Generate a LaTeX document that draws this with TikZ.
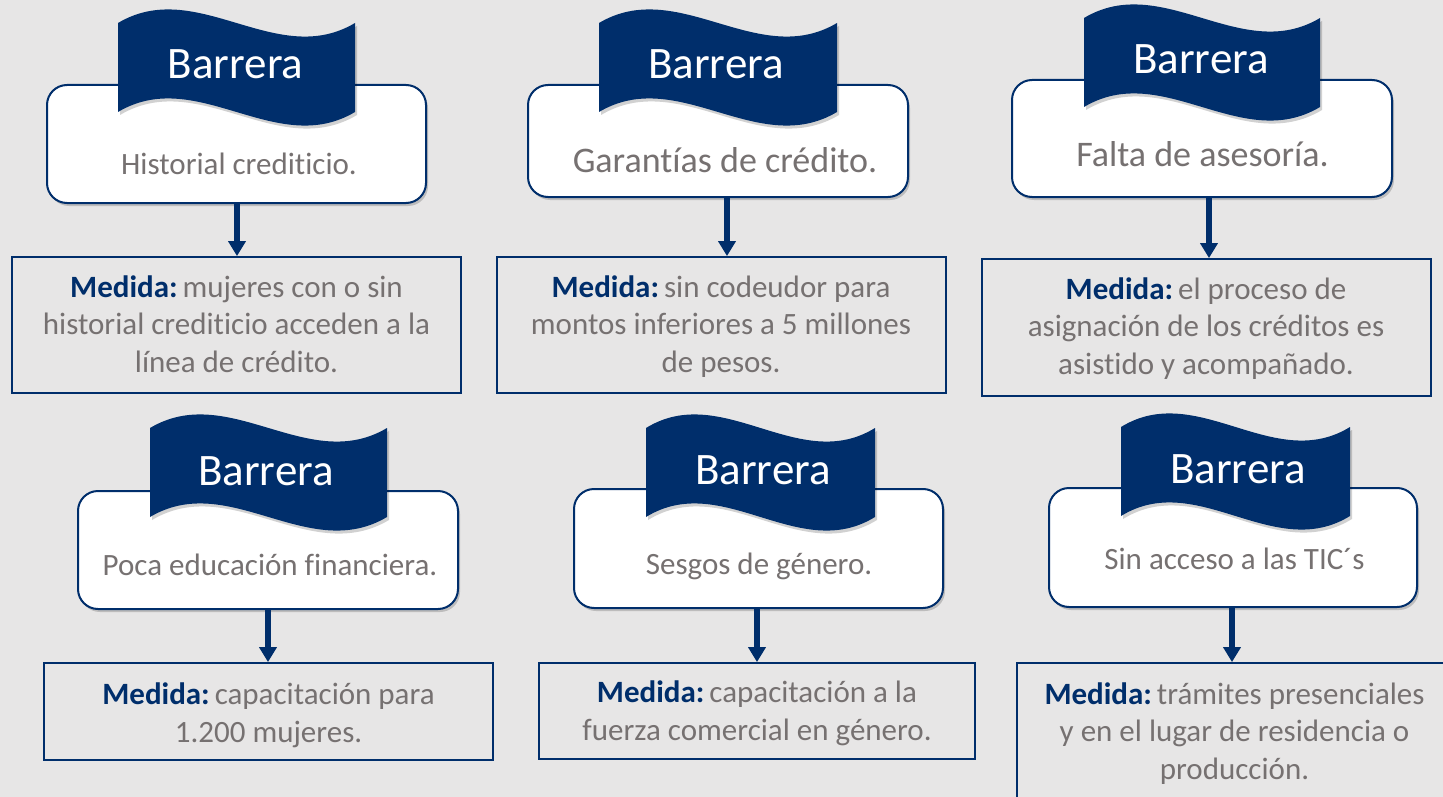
\documentclass[tikz,border=0pt]{standalone}
\usepackage{fontspec}
\setmainfont{Carlito}[Ligatures={NoCommon}]
\usetikzlibrary{arrows.meta,shadows}
\definecolor{bg}{HTML}{E7E6E6}
\definecolor{navy}{HTML}{002E6B}
\definecolor{txtgray}{HTML}{767171}
\newcommand{\flagshape}[3]{%
  \fill[navy, flagshadow] (#1,#2)
    .. controls ({#1+#3/3},{#2-47}) and ({#1+2*#3/3},{#2+47}) .. ({#1+#3},#2)
    -- ({#1+#3},{#2+89})
    .. controls ({#1+2*#3/3},{#2+89+47}) and ({#1+#3/3},{#2+89-47}) .. (#1,{#2+89})
    -- cycle;}
\tikzset{
  flagshadow/.style={drop shadow={shadow xshift=2pt,shadow yshift=-3pt,opacity=0.18,fill=black}},
  barbox/.style={draw=navy, line width=2pt, fill=white, rounded corners=20pt,
    inner sep=0pt, drop shadow={shadow xshift=2pt,shadow yshift=-3pt,opacity=0.18,fill=black}},
  medbox/.style={draw=navy, line width=1.8pt, inner sep=0pt},
  flagtxt/.style={anchor=base, text=white, font=\fontsize{45}{54}\selectfont, inner sep=0pt},
  bartxt/.style={anchor=base, text=txtgray, font=\fontsize{31}{37.5}\selectfont, inner sep=0pt},
  bigbartxt/.style={anchor=base, text=txtgray, font=\fontsize{36}{43}\selectfont, inner sep=0pt},
  medtxt/.style={anchor=base, text=txtgray, align=center, font=\fontsize{31}{37.5}\selectfont, inner sep=0pt},
  conn/.style={draw=navy, line width=6pt, -{Triangle[width=17pt,length=15pt]}},
}
\newcommand{\med}{\textbf{\textcolor{navy}{Medida:}}\hspace{5pt}}
\begin{document}
\begin{tikzpicture}[x=1pt,y=-1pt]
\useasboundingbox (0,0) rectangle (1443,797);
\clip (0,0) rectangle (1443,797);
\fill[bg] (0,0) rectangle (1443,797);

% coordinates for arrow columns
\coordinate (x1) at (237,0);
\coordinate (x2) at (727,0);
\coordinate (x3) at (1209,0);
\coordinate (x4) at (268,0);
\coordinate (x5) at (757,0);
\coordinate (x6) at (1232,0);

% medida boxes
\node[medbox, minimum width=449pt, minimum height=136pt] (m1) at (236.5,325) {};
\node[medbox, minimum width=449pt, minimum height=136pt] (m2) at (721.5,325) {};
\node[medbox, minimum width=449pt, minimum height=137pt] (m3) at (1206.5,327.5) {};
\node[medbox, minimum width=449pt, minimum height=97pt] (m4) at (268.5,711.5) {};
\node[medbox, minimum width=436pt, minimum height=96pt] (m5) at (757,711) {};
\node[medbox, minimum width=453pt, minimum height=167pt] (m6) at (1243.5,746.5) {};

% barrier boxes
\node[barbox, minimum width=379pt, minimum height=118pt] (b1) at (236.5,144) {};
\node[barbox, minimum width=380pt, minimum height=112pt] (b2) at (718,141) {};
\node[barbox, minimum width=380pt, minimum height=117pt] (b3) at (1202,138.5) {};
\node[barbox, minimum width=380pt, minimum height=118pt] (b4) at (268,550) {};
\node[barbox, minimum width=369pt, minimum height=119pt] (b5) at (758.5,548.5) {};
\node[barbox, minimum width=368pt, minimum height=119pt] (b6) at (1233,547.5) {};

% connectors
\draw[conn] (b1.south -| x1) -- (m1.north -| x1);
\draw[conn] (b2.south -| x2) -- (m2.north -| x2);
\draw[conn] (b3.south -| x3) -- (m3.north -| x3);
\draw[conn] (b4.south -| x4) -- (m4.north -| x4);
\draw[conn] (b5.south -| x5) -- (m5.north -| x5);
\draw[conn] (b6.south -| x6) -- (m6.north -| x6);

% flags
\flagshape{118}{23}{237}
\flagshape{599}{23}{238}
\flagshape{1084}{18}{236}
\flagshape{150}{428}{237}
\flagshape{646}{428}{229}
\flagshape{1121}{427}{229}
\node[flagtxt] (f1) at (235.5,79) {Barrera};
\node[flagtxt] (f2) at (716,79) {Barrera};
\node[flagtxt] (f3) at (1201,74) {Barrera};
\node[flagtxt] (f4) at (266,485) {Barrera};
\node[flagtxt] (f5) at (763,484) {Barrera};
\node[flagtxt] (f6) at (1238,483) {Barrera};

% barrier texts
\node[bartxt] (t1) at (239,175) {Historial crediticio.};
\node[bigbartxt] (t2) at (725,172) {Garantías de crédito.};
\node[bigbartxt] (t3) at (1202.5,167) {Falta de asesoría.};
\node[bartxt] (t4) at (270,575) {Poca educación financiera.};
\node[bartxt] (t5) at (759,574) {Sesgos de género.};
\node[bartxt] (t6) at (1234.5,569) {Sin acceso a las TIC´s};

% medida texts
\node[medtxt] (mt1) at (236.5,372) {\med mujeres con o sin\\historial crediticio acceden a la\\línea de crédito.};
\node[medtxt] (mt2) at (721,372) {\med sin codeudor para\\montos inferiores a 5 millones\\de pesos.};
\node[medtxt] (mt3) at (1206,374) {\med el proceso de\\asignación de los créditos es\\asistido y acompañado.};
\node[medtxt] (mt4) at (268.5,742) {\med capacitación para\\1.200 mujeres.};
\node[medtxt] (mt5) at (757,740) {\med capacitación a la\\fuerza comercial en género.};
\node[medtxt] (mt6) at (1234.5,779) {\med trámites presenciales\\y en el lugar de residencia o\\producción.};
\end{tikzpicture}
\end{document}
